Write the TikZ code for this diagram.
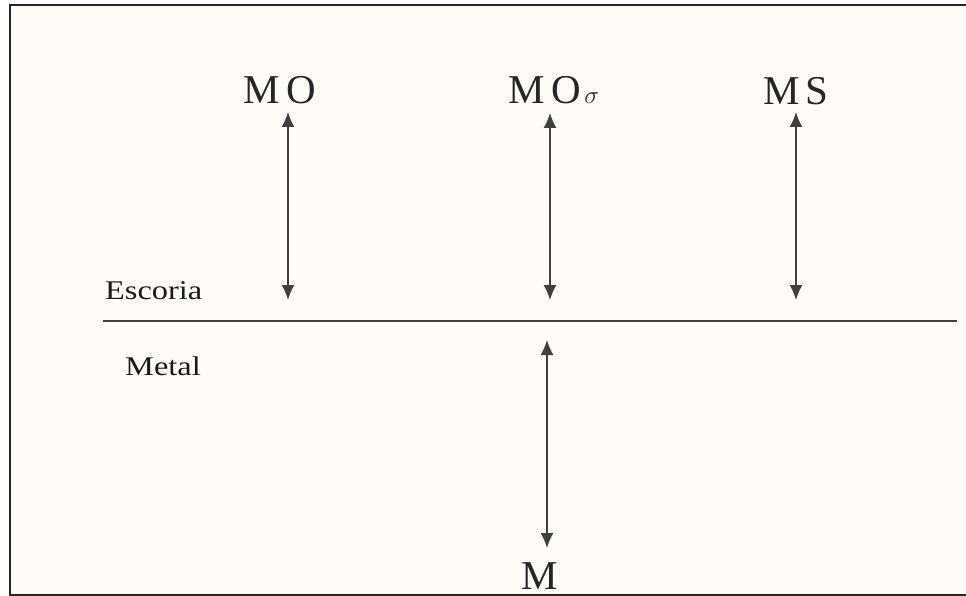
\documentclass[tikz,border=0pt]{standalone}
\usepackage{fontspec}
\setmainfont{Liberation Serif}
\newfontfamily\widefont[FakeStretch=1.2]{Liberation Serif}
\usetikzlibrary{arrows.meta}
\begin{document}
\begin{tikzpicture}[x=1pt,y=-1pt,
  big/.style={inner sep=0pt,anchor=base west,font=\fontsize{41}{44}\selectfont,text=black!85},
  small/.style={inner sep=0pt,anchor=base west,font=\widefont\fontsize{27}{30}\selectfont,text=black!90},
  arr/.style={draw=black!75,line width=1.5pt,{Latex[length=15pt,width=13pt]}-{Latex[length=15pt,width=13pt]}}]
\useasboundingbox (0,0) rectangle (966,596);
\fill[white!97!orange] (10,5) rectangle (966,595);
\draw[line width=2.5pt,black!85] (966,5) -- (10,5) -- (10,595) -- (966,595);
% texts
\node[big] (mo) at (243,104) {M\kern7pt O};
\node[big] (mos) at (508,104) {M\kern7pt O\kern3pt{\fontsize{24}{26}\selectfont$\sigma$}};
\node[big] (ms) at (763,105) {M\kern6pt S};
\node[big] (m) at (521,589) {M};
\node[small] (esc) at (105,299) {Escoria};
\node[small] (met) at (125,375) {Metal};
% interface line
\coordinate (la) at (103,321);
\coordinate (lb) at (957,321);
\draw[black!75,line width=2pt] (la) -- (lb);
% arrow end points
\coordinate (a1) at (288,112); \coordinate (b1) at (288,300);
\coordinate (a2) at (550,113); \coordinate (b2) at (550,300);
\coordinate (a3) at (796,112); \coordinate (b3) at (796,300);
\coordinate (a4) at (547,340); \coordinate (b4) at (547,548);
\draw[arr] (a1) -- (b1);
\draw[arr] (a2) -- (b2);
\draw[arr] (a3) -- (b3);
\draw[arr] (a4) -- (b4);
\end{tikzpicture}
\end{document}
